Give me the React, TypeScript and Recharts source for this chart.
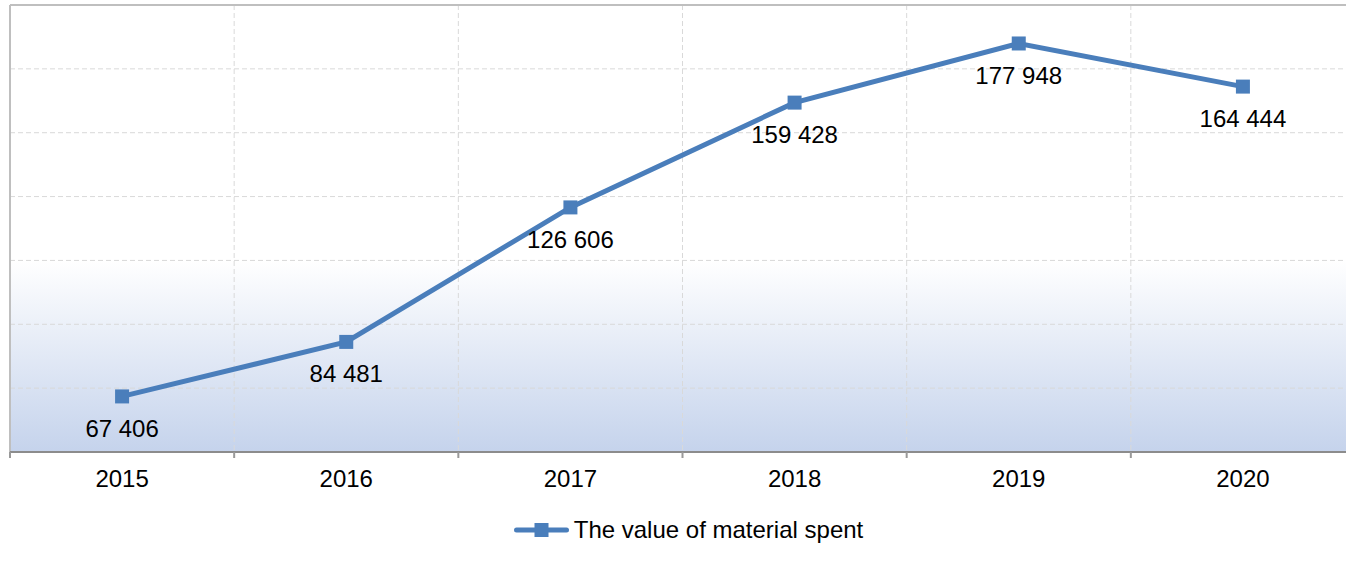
import React from 'react';
import {
  LineChart,
  Line,
  XAxis,
  YAxis,
  CartesianGrid,
  ReferenceLine,
  LabelList,
  Legend,
} from 'recharts';

const years = ['2015', '2016', '2017', '2018', '2019', '2020'];
const materialSpent = [67406, 84481, 126606, 159428, 177948, 164444];
const yTicks = [50000, 70000, 90000, 110000, 130000, 150000, 170000, 190000];
const seriesName = 'The value of material spent';

const centerTicks = years.map((_, i) => i);
const boundaryTicks = [-0.5, 0.5, 1.5, 2.5, 3.5, 4.5, 5.5];
const allXTicks = [...boundaryTicks, ...centerTicks].sort((a, b) => a - b);

const data = years.map((year, i) => ({ idx: i, year, value: materialSpent[i] }));

const FONT = '"Liberation Sans", Arial, sans-serif';
const BLUE = '#4a7ebb';
const FS = 24;

const fmt = (v: number) => String(v).replace(/\B(?=(\d{3})+(?!\d))/g, ' ');

const XTick = (props: any) => {
  const { x, y, payload } = props;
  const v = payload.value as number;
  if (Number.isInteger(v)) {
    return (
      <text
        x={x}
        y={y + 26}
        textAnchor="middle"
        dominantBaseline="central"
        fontFamily={FONT}
        fontSize={FS}
        fill="#000"
      >
        {years[v]}
      </text>
    );
  }
  return <line x1={x} x2={x} y1={y} y2={y + 6} stroke="#999" strokeWidth={2} />;
};

const Dot = (props: any) => {
  const { cx, cy, index } = props;
  if (cx == null || cy == null) return null;
  return <rect key={`d${index}`} x={cx - 7} y={cy - 7} width={14} height={14} fill={BLUE} />;
};

const ValueLabel = (props: any) => {
  const { x, y, value } = props;
  return (
    <text
      x={x}
      y={y + 32}
      textAnchor="middle"
      dominantBaseline="central"
      fontFamily={FONT}
      fontSize={FS}
      fill="#000"
    >
      {fmt(value)}
    </text>
  );
};

const LegendContent = () => (
  <div
    style={{
      height: 76,
      display: 'flex',
      justifyContent: 'center',
      alignItems: 'center',
      paddingLeft: 12,
      boxSizing: 'border-box',
      fontFamily: FONT,
      fontSize: FS,
      color: '#000',
    }}
  >
    <svg width={55} height={20} style={{ marginRight: 5 }}>
      <line x1={2.5} x2={52.5} y1={10} y2={10} stroke={BLUE} strokeWidth={5} strokeLinecap="round" />
      <rect x={20.5} y={3} width={14} height={14} fill={BLUE} />
    </svg>
    <span>{seriesName}</span>
  </div>
);

export default function App() {
  return (
    <div
      style={{
        position: 'absolute',
        left: 0,
        top: 0,
        width: 1346,
        height: 568,
        overflow: 'hidden',
        background: '#fff',
      }}
    >
      <LineChart
        width={1370}
        height={568}
        data={data}
        margin={{ top: 5, right: 15, left: 10, bottom: 0 }}
      >
        <defs>
          <linearGradient id="bgGrad" x1="0" y1="0" x2="0" y2="1">
            <stop offset="0" stopColor="#ffffff" />
            <stop offset="0.5705" stopColor="#ffffff" />
            <stop offset="1" stopColor="#c5d3ec" />
          </linearGradient>
        </defs>
        <XAxis
          xAxisId="grid"
          type="number"
          dataKey="idx"
          domain={[-0.5, 5.5]}
          ticks={boundaryTicks}
          hide
        />
        <CartesianGrid
          xAxisId="grid"
          stroke="#d9d9d9"
          strokeDasharray="5 3"
          fill="url(#bgGrad)"
          fillOpacity={1}
        />
        <XAxis
          type="number"
          dataKey="idx"
          domain={[-0.5, 5.5]}
          ticks={allXTicks}
          interval={0}
          tickLine={false}
          tickSize={0}
          tickMargin={0}
          tick={<XTick />}
          axisLine={{ stroke: '#8c8c8c', strokeWidth: 2 }}
          height={40}
        />
        <YAxis hide domain={[50000, 190000]} ticks={yTicks} />
        <ReferenceLine y={190000} stroke="#bfbfbf" strokeWidth={2} />
        <ReferenceLine x={-0.5} stroke="#bfbfbf" strokeWidth={2} />
        <Line
          type="linear"
          dataKey="value"
          name={seriesName}
          stroke={BLUE}
          strokeWidth={5}
          dot={<Dot />}
          activeDot={false}
          isAnimationActive={false}
        >
          <LabelList dataKey="value" content={<ValueLabel />} />
        </Line>
        <Legend verticalAlign="bottom" content={<LegendContent />} />
      </LineChart>
    </div>
  );
}
